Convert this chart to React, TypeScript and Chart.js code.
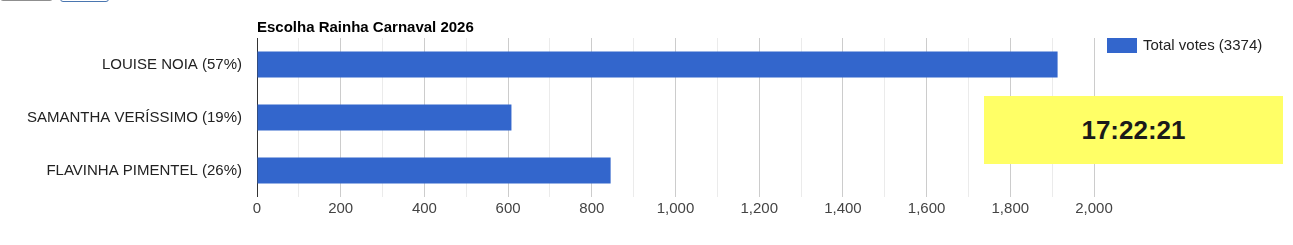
import React, { useEffect, useRef } from "react";
import { Chart, registerables } from "chart.js";

Chart.register(...registerables);

const chartTitle = "Escolha Rainha Carnaval 2026";
const categories = ["LOUISE NOIA (57%)", "SAMANTHA VERÍSSIMO (19%)", "FLAVINHA PIMENTEL (26%)"];
const votes = [1913, 608, 845];
const seriesLabel = "Total votes (3374)";
const clockText = "17:22:21";
const axisMin = 0;
const axisMax = 2000;
const minorStep = 100;
const majorStep = 200;

const FONT = "Arial, 'Liberation Sans', sans-serif";
const BAR_COLOR = "#3366cc";

export default function App() {
  const canvasRef = useRef<HTMLCanvasElement | null>(null);

  useEffect(() => {
    const canvas = canvasRef.current;
    if (!canvas) return;

    const overlayPlugin = {
      id: "overlayText",
      afterDraw(chart: any) {
        const ctx = chart.ctx;
        const area = chart.chartArea;
        ctx.save();
        // title
        ctx.font = `bold 15px ${FONT}`;
        ctx.fillStyle = "#000000";
        ctx.textAlign = "left";
        ctx.textBaseline = "alphabetic";
        ctx.fillText(chartTitle, area.left, 32);
        // legend
        ctx.fillStyle = BAR_COLOR;
        ctx.fillRect(area.right + 13, 38, 30, 15);
        ctx.font = `15px ${FONT}`;
        ctx.fillStyle = "#222222";
        ctx.textBaseline = "middle";
        ctx.fillText(seriesLabel, area.right + 49, 46);
        ctx.restore();
      },
    };

    const chart = new Chart(canvas, {
      type: "bar",
      data: {
        labels: categories,
        datasets: [
          {
            label: seriesLabel,
            data: votes,
            backgroundColor: BAR_COLOR,
            borderWidth: 0,
            barPercentage: 0.49,
            categoryPercentage: 1,
          },
        ],
      },
      options: {
        indexAxis: "y",
        responsive: false,
        animation: false,
        layout: { padding: { top: 38, right: 199, left: 0, bottom: 0 } },
        plugins: {
          legend: { display: false },
          title: { display: false },
          tooltip: { enabled: false },
        },
        scales: {
          x: {
            min: axisMin,
            max: axisMax,
            afterFit: (s: any) => {
              s.height = 48;
            },
            border: { display: false },
            grid: {
              drawTicks: false,
              lineWidth: 1,
              color: (c: any) => {
                const v = c.tick ? c.tick.value : 1;
                if (v === 0) return "#333333";
                return v % majorStep === 0 ? "#cccccc" : "#ebebeb";
              },
            },
            ticks: {
              stepSize: minorStep,
              autoSkip: false,
              maxRotation: 0,
              padding: 3,
              color: "#444444",
              font: { family: FONT, size: 15 },
              callback: (v: any) =>
                Number(v) % majorStep === 0 ? Number(v).toLocaleString("en-US") : "",
            },
          },
          y: {
            afterFit: (s: any) => {
              s.width = 257;
            },
            border: { display: false },
            grid: { display: false, drawTicks: false },
            ticks: {
              padding: 15,
              color: "#222222",
              font: { family: FONT, size: 15 },
            },
          },
        },
      },
      plugins: [overlayPlugin],
    } as any);

    return () => chart.destroy();
  }, []);

  return (
    <div style={{ position: "fixed", left: 0, top: 0, width: 1293, height: 245, background: "#fff", overflow: "hidden" }}>
      <div
        style={{
          position: "absolute",
          left: 0,
          top: -20,
          width: 53,
          height: 21,
          border: "1px solid #8f8f8f",
          borderRadius: 3,
          boxSizing: "border-box",
          background: "#f5f5f5",
        }}
      />
      <div
        style={{
          position: "absolute",
          left: 60,
          top: -20,
          width: 49,
          height: 22,
          border: "1px solid #4a76b0",
          borderRadius: 3,
          boxSizing: "border-box",
          background: "#fff",
        }}
      />
      <canvas ref={canvasRef} width={1293} height={245} style={{ position: "absolute", left: 0, top: 0 }} />
      <div
        style={{
          position: "absolute",
          left: 984,
          top: 96,
          width: 299,
          height: 68,
          background: "#ffff66",
          display: "flex",
          alignItems: "center",
          justifyContent: "center",
          fontFamily: FONT,
          fontSize: 26,
          fontWeight: "bold",
          color: "#1a1a1a",
        }}
      >
        {clockText}
      </div>
    </div>
  );
}
